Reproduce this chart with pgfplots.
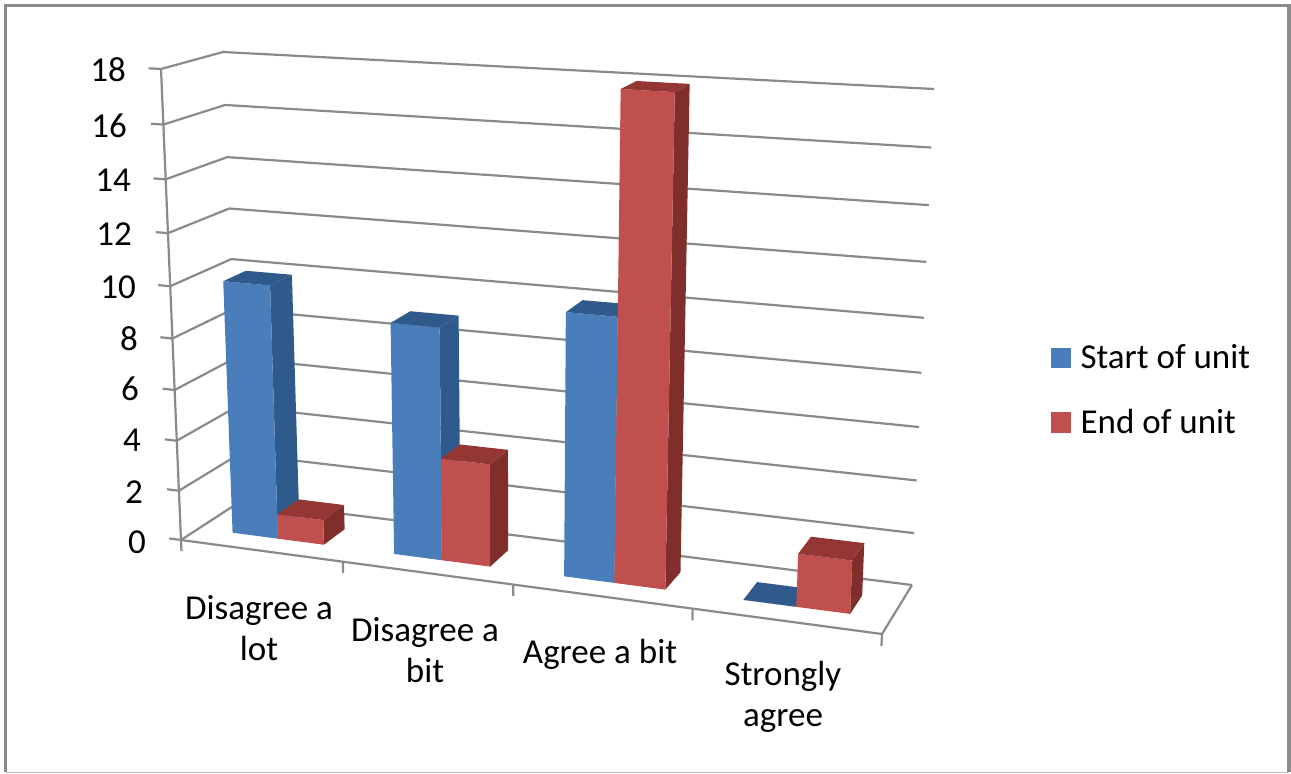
\documentclass[border=0pt]{standalone}
\usepackage{pgfplots}
\pgfplotsset{compat=1.18}
\usepackage{fontspec}
\setmainfont{Carlito}
\definecolor{blueF}{HTML}{4A7EBB}
\definecolor{blueS}{HTML}{2F5B8C}
\definecolor{blueT}{HTML}{315A8C}
\definecolor{redF}{HTML}{C0504D}
\definecolor{redS}{HTML}{7F2E2C}
\definecolor{redT}{HTML}{943634}
\definecolor{gridc}{HTML}{8A8A8A}
\definecolor{framec}{HTML}{8C8C8C}

% One face of a bar: u runs along the categories (0..1), v into the depth (0..1), z is the value.
\pgfplotsset{
  face/.style={draw=none,fill=#1,forget plot},
  table/cube table/.style={
    x expr={PX(\thisrow{u},\thisrow{v},\thisrow{z})},
    y expr={PY(\thisrow{u},\thisrow{v},\thisrow{z})},
    row sep=\\},
  wire/.style={draw=gridc,line width=2.2pt,forget plot}
}
% #1 left, #2 right, #3 value, #4 front, #5 side, #6 top
\newcommand\prism[6]{%
  \addplot[face=#5] table[cube table]{u v z\\ #2 0.30 0\\ #2 0.68 0\\ #2 0.68 #3\\ #2 0.30 #3\\};
  \addplot[face=#4] table[cube table]{u v z\\ #1 0.30 0\\ #2 0.30 0\\ #2 0.30 #3\\ #1 0.30 #3\\};
  \addplot[face=#6] table[cube table]{u v z\\ #1 0.30 #3\\ #2 0.30 #3\\ #2 0.68 #3\\ #1 0.68 #3\\};
}
% #1 category index, #2 start of unit, #3 end of unit
\newcommand\category[3]{%
  \pgfmathsetmacro\ua{(#1+0.2143)/4}%
  \pgfmathsetmacro\ub{(#1+0.5)/4}%
  \pgfmathsetmacro\uc{(#1+0.7857)/4}%
  \edef\doit{\noexpand\prism{\ua}{\ub}{#2}{blueF}{blueS}{blueT}\noexpand\prism{\ub}{\uc}{#3}{redF}{redS}{redT}}%
  \doit
}
\newcommand\wallgrid[1]{%
  \addplot[wire] table[cube table]{u v z\\ 0 0 #1\\ 0 1 #1\\ 1 1 #1\\};
  \addplot[wire] table[cube table]{u v z\\ 0 0 #1\\ -0.0186 0 #1\\};
}
\newcommand\cattick[1]{%
  \addplot[wire] table[cube table]{u v z\\ #1 0 0\\ #1 0 -0.45\\};
}

\begin{document}
\begin{tikzpicture}[
  declare function={
    sU(\u)=\u/(1+0.11*(1-\u));
    tZ(\z)=(\z/18)/(1+0.07*(1-\z/18));
    FX(\s,\v,\t)=(1-\t)*((1-\v)*(181+701*\s)+\v*(241+671*\s))+\t*((1-\v)*(161+745*\s)+\v*(223+711*\s));
    FY(\s,\v,\t)=(1-\t)*((1-\v)*(540+94*\s)+\v*(501+84*\s))+\t*((1-\v)*(69+44*\s)+\v*(52+37*\s));
    PX(\u,\v,\z)=FX(sU(\u),\v,tZ(\z));
    PY(\u,\v,\z)=FY(sU(\u),\v,tZ(\z));
  }]
\begin{axis}[
  scale only axis,width=1291pt,height=774pt,
  xmin=0,xmax=1291,ymin=0,ymax=774,y dir=reverse,
  axis lines=none,clip=false,
  legend style={draw=none,fill=none,at={(axis cs:1051,390)},anchor=west,
    font=\fontsize{35}{40}\selectfont,row sep=35pt,inner sep=0pt,
    /tikz/every odd column/.style={column sep=8pt}},
  legend cell align=left
]
% outer frame
\addplot[draw=framec,line width=3.5pt,forget plot] coordinates {(5.5,772) (5.5,5.5) (1289,5.5) (1289,772)};
\addplot[draw=framec!60,line width=1.5pt,forget plot] coordinates {(5.5,772.5) (1289,772.5)};

% walls and floor
\pgfplotsinvokeforeach{0,2,4,6,8,10,12,14,16,18}{\wallgrid{#1}}
\addplot[wire] table[cube table]{u v z\\ 0 0 18\\ 0 0 0\\ 1 0 0\\ 1 1 0\\};
\addplot[wire] table[cube table]{u v z\\ 0 0 0\\ 0 0 -0.45\\};
\cattick{0.25}\cattick{0.5}\cattick{0.75}\cattick{1}

% the bars
\category{0}{10}{1}
\category{1}{9}{4}
\category{2}{10}{18}
\category{3}{0}{2}

\addlegendimage{only marks,mark=square*,mark size=9.7pt,color=blueF}
\addlegendentry{Start of unit}
\addlegendimage{only marks,mark=square*,mark size=9.7pt,color=redF}
\addlegendentry{End of unit}

% value labels on the left wall
\foreach \lab/\xx/\yy in {18/126/70,16/127/126,14/131/180,12/132/234,10/136/287,8/138/339,6/139/389,4/141/440,2/143/492,0/146/542}{
  \edef\tmp{\noexpand\node[anchor=east,inner sep=0pt,font=\noexpand\fontsize{35}{40}\noexpand\selectfont] at (axis cs:\xx,\yy) {\lab};}
  \tmp
}
% category labels
\tikzset{catlab/.style={align=center,inner sep=0pt,font=\fontsize{35}{41}\selectfont}}
\node[catlab] at (axis cs:259,628) {Disagree a\\lot};
\node[catlab] at (axis cs:425,650) {Disagree a\\bit};
\node[catlab] at (axis cs:600,654) {Agree a bit};
\node[catlab] at (axis cs:783,697) {Strongly\\agree};
\end{axis}
\pgfresetboundingbox
\path[use as bounding box] (current axis.south west) rectangle (current axis.north east);
\end{tikzpicture}
\end{document}
